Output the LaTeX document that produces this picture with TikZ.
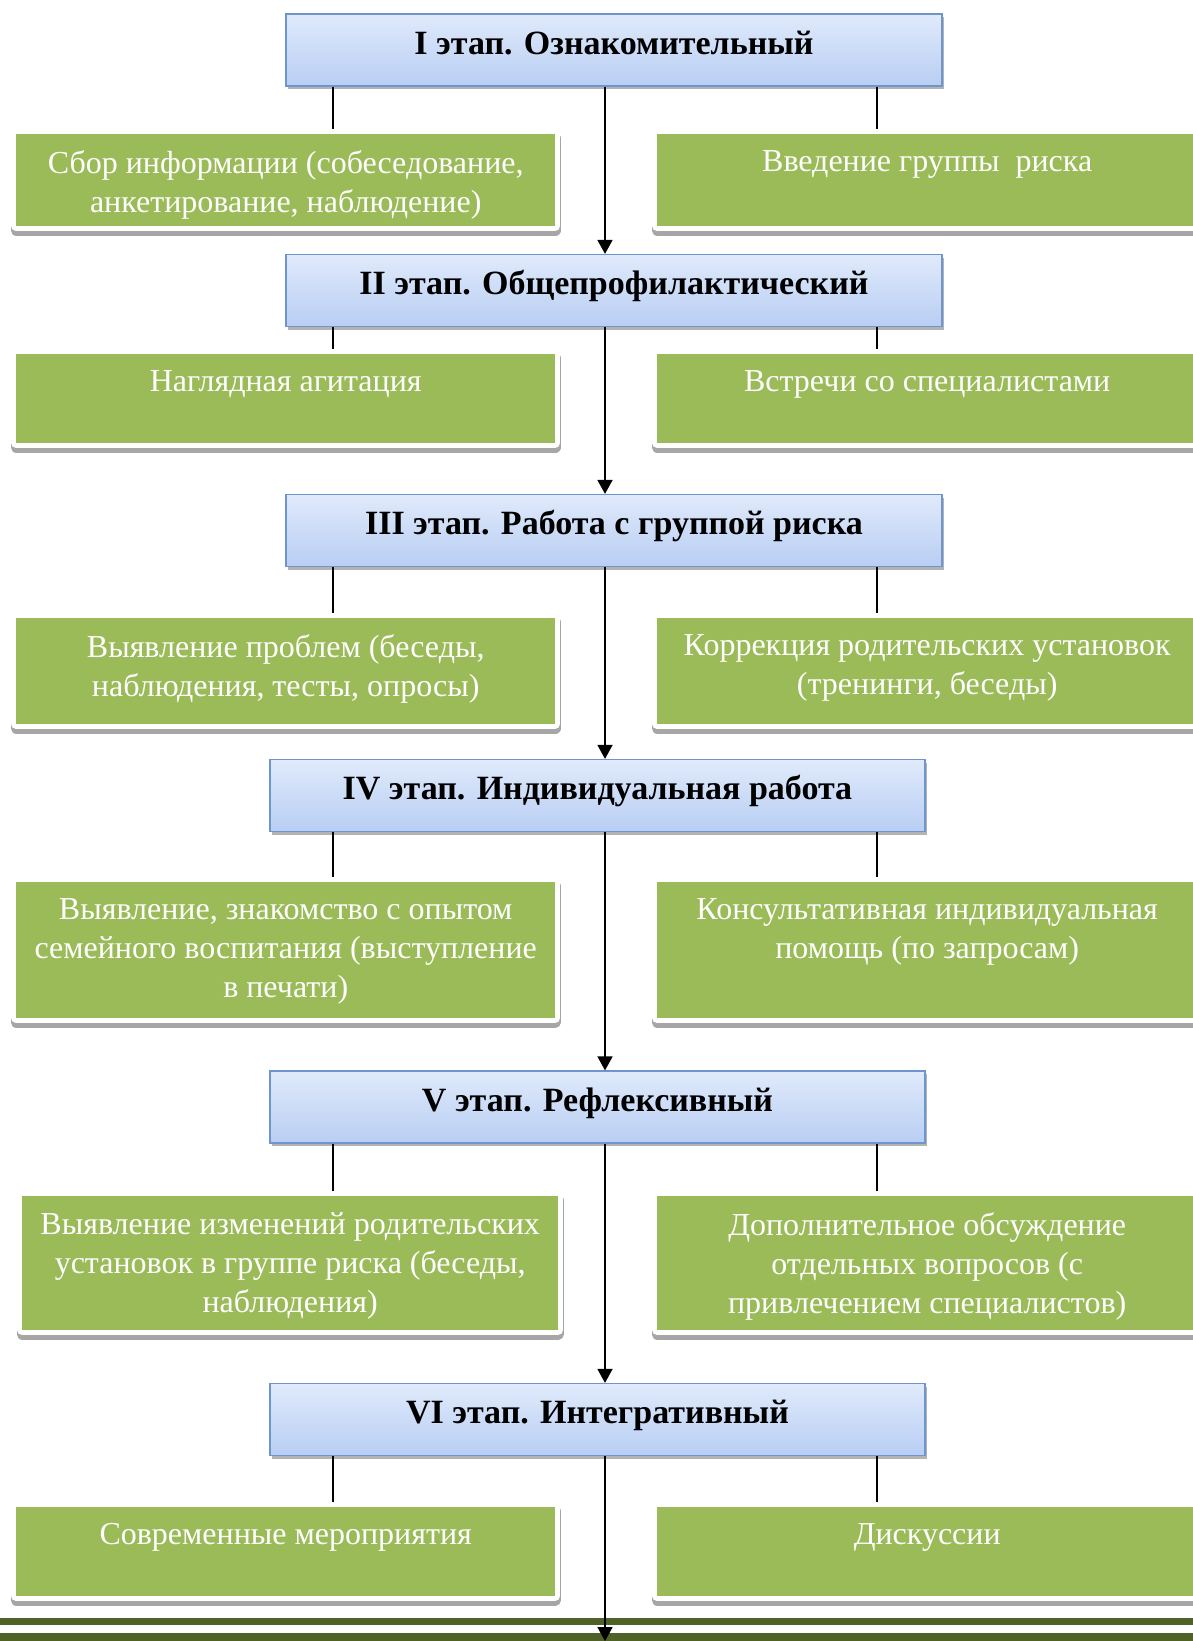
\documentclass[tikz,border=0pt]{standalone}
\usepackage{fontspec}
\setmainfont{Liberation Serif}
\usetikzlibrary{positioning}
\usetikzlibrary{arrows.meta}
\usetikzlibrary{shadows}

\definecolor{leaf}{HTML}{9BBB59}
\definecolor{moss}{HTML}{4F6228}
\definecolor{skytop}{HTML}{E0EAFB}
\definecolor{skybot}{HTML}{B8CEF3}
\definecolor{skyline}{HTML}{6F95CD}

\tikzset{
  stage/.style={draw=skyline, line width=1.2pt, top color=skytop, bottom color=skybot,
    drop shadow={shadow xshift=2pt, shadow yshift=-3pt, fill=black!50, opacity=0.6},
    minimum height=72pt, text height=22pt, text depth=14pt,
    font=\bfseries\fontsize{34}{38}\selectfont},
  card/.style={fill=leaf, anchor=north west, inner sep=0pt,
    preaction={draw=black!35, line width=11pt, line join=round, transform canvas={yshift=-4pt}},
    preaction={draw=white, fill=white, line width=10pt, line join=round}},
  cardtext/.style={text=white, inner sep=0pt, align=center, font=\fontsize{32}{39}\selectfont},
  link/.style={line width=1.6pt, shorten >=5pt},
  flow/.style={line width=1.6pt, -{Triangle[length=14pt,width=15pt]}}
}

\begin{document}
\begin{tikzpicture}[x=1pt, y=-1pt]
\useasboundingbox (0,0) rectangle (1193,1641);

% stages
\node[stage, minimum width=656pt] (s1) at (614,50) {I этап. Ознакомительный};
\node[stage, minimum width=656pt] (s2) at (614,290.5) {II этап. Общепрофилактический};
\node[stage, minimum width=656pt] (s3) at (614,530.5) {III этап. Работа с группой риска};
\node[stage, minimum width=655pt] (s4) at (597.5,795.5) {IV этап. Индивидуальная работа};
\node[stage, minimum width=655pt] (s5) at (597.5,1107) {V этап. Рефлексивный};
\node[stage, minimum width=655pt] (s6) at (597.5,1419.5) {VI этап. Интегративный};

% cards, left
\node[card, minimum width=539pt, minimum height=92pt] (gl1) at (16,134) {};
\node[card, minimum width=539pt, minimum height=89pt] (gl2) at (16,354) {};
\node[card, minimum width=539pt, minimum height=106pt] (gl3) at (16,618) {};
\node[card, minimum width=539pt, minimum height=136pt] (gl4) at (16,882) {};
\node[card, minimum width=536pt, minimum height=134pt] (gl5) at (22,1196) {};
\node[card, minimum width=539pt, minimum height=89pt] (gl6) at (16,1507) {};

% cards, right
\node[card, minimum width=540pt, minimum height=92pt] (gr1) at (657,134) {};
\node[card, minimum width=540pt, minimum height=89pt] (gr2) at (657,354) {};
\node[card, minimum width=540pt, minimum height=106pt] (gr3) at (657,618) {};
\node[card, minimum width=540pt, minimum height=136pt] (gr4) at (657,882) {};
\node[card, minimum width=540pt, minimum height=134pt] (gr5) at (657,1196) {};
\node[card, minimum width=540pt, minimum height=89pt] (gr6) at (657,1507) {};

\node[cardtext, below=16pt of gl1.north] (tl1) {Сбор информации (собеседование,\\анкетирование, наблюдение)};
\node[cardtext, below=16pt of gr1.north] (tr1) {Введение группы~ риска};
\node[cardtext, below=16pt of gl2.north] (tl2) {Наглядная агитация};
\node[cardtext, below=16pt of gr2.north] (tr2) {Встречи со специалистами};
\node[cardtext, below=16pt of gl3.north] (tl3) {Выявление проблем (беседы,\\наблюдения, тесты, опросы)};
\node[cardtext, below=16pt of gr3.north] (tr3) {Коррекция родительских установок\\(тренинги, беседы)};
\node[cardtext, below=16pt of gl4.north] (tl4) {Выявление, знакомство с опытом\\семейного воспитания (выступление\\в печати)};
\node[cardtext, below=16pt of gr4.north] (tr4) {Консультативная индивидуальная\\помощь (по запросам)};
\node[cardtext, below=16pt of gl5.north] (tl5) {Выявление изменений родительских\\установок в группе риска (беседы,\\наблюдения)};
\node[cardtext, below=16pt of gr5.north] (tr5) {Дополнительное обсуждение\\отдельных вопросов (с\\привлечением специалистов)};
\node[cardtext, below=16pt of gl6.north] (tl6) {Современные мероприятия};
\node[cardtext, below=16pt of gr6.north] (tr6) {Дискуссии};

% bottom bars
\fill[moss] (0,1618) rectangle (1193,1625);
\fill[moss] (0,1633) rectangle (1193,1641);

\coordinate (spine) at (605,0);
\coordinate (lx) at (333,0);
\coordinate (rx) at (877,0);
\coordinate (foot) at (605,1641);

\foreach \n/\m in {1/2,2/3,3/4,4/5,5/6}
  \draw[flow] (s\n.south -| spine) -- (s\m.north -| spine);
\draw[flow] (s6.south -| spine) -- (foot);

\foreach \n in {1,...,6}{
  \draw[link] (s\n.south -| lx) -- (gl\n.north -| lx);
  \draw[link] (s\n.south -| rx) -- (gr\n.north -| rx);
}
\end{tikzpicture}
\end{document}
